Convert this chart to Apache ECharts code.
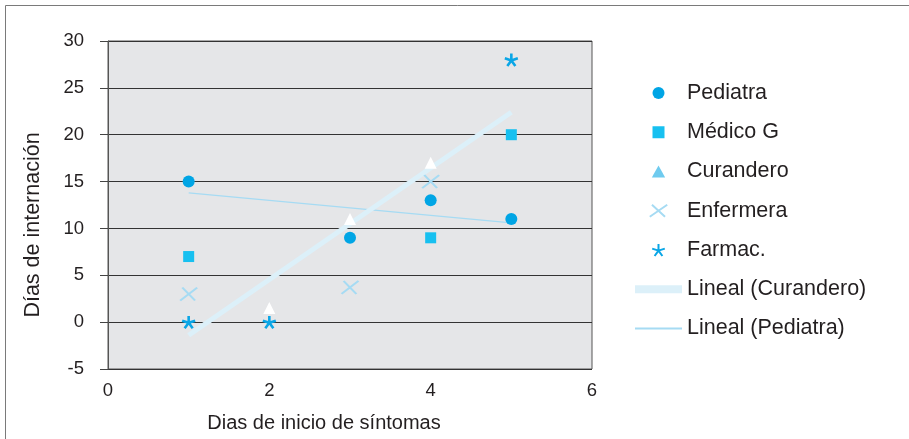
<!DOCTYPE html>
<html>
<head>
<meta charset="utf-8">
<script src="https://cdn.jsdelivr.net/npm/echarts@6/dist/echarts.min.js"></script>
<style>
  html, body { margin: 0; padding: 0; background: #ffffff; }
  #chart { width: 909px; height: 439px; }
</style>
</head>
<body>
<div id="chart"></div>
<script>
// Días de inicio de síntomas (x) vs. días de internación (y), por tipo de consulta
const seriesNames = ['Pediatra', 'Médico G', 'Curandero', 'Enfermera', 'Farmac.'];
const pediatra  = [[1, 15], [3, 9], [4, 13], [5, 11]];
const medicoG   = [[1, 7], [4, 9], [5, 20]];
const curandero = [[2, 1.5], [3, 11], [4, 17]];
const enfermera = [[1, 3], [3, 3.7], [4, 15]];
const farmac    = [[1, 0], [2, 0], [5, 28]];

// Líneas de tendencia (extremos)
const trendCurandero = [[1, -1.4], [5, 22.4]];
const trendPediatra  = [[1, 13.8], [5, 10.6]];

const yTicks = [-5, 0, 5, 10, 15, 20, 25, 30];
const xTicks = [0, 2, 4, 6];

const FONT = "'Liberation Sans', Arial, sans-serif";
const TEXT = '#231f20';

const crossPath    = 'path://M0,11L16,0M2,0L14,11';
const starPath     = 'path://M6,6L6,0M6,6L11.7,4.15M6,6L0.3,4.15M6,6L9.53,10.85M6,6L2.47,10.85';
const squareIcon   = 'path://M0,0L10,0L10,10L0,10Z';
const triangleIcon = 'path://M5,0L10,9L0,9Z';
const noMarker     = { color: 'rgba(0,0,0,0)', borderWidth: 0 };

const chart = echarts.init(document.getElementById('chart'), null, { renderer: 'canvas' });

chart.setOption({
  animation: false,
  backgroundColor: '#ffffff',
  textStyle: { fontFamily: FONT },
  graphic: [{
    type: 'rect',
    shape: { x: 5.5, y: 5.5, width: 1000, height: 1000 },
    style: { fill: 'none', stroke: '#7a7a7a', lineWidth: 1 },
    silent: true
  }],
  grid: {
    left: 108, top: 41, right: 317, bottom: 70,
    show: true,
    backgroundColor: '#e5e6e8',
    borderColor: '#555555',
    borderWidth: 1
  },
  xAxis: {
    type: 'value',
    min: xTicks[0], max: xTicks[xTicks.length - 1], interval: 2,
    name: 'Dias de inicio de síntomas',
    nameLocation: 'middle',
    nameGap: 44,
    nameTextStyle: { fontSize: 20, color: TEXT, fontFamily: FONT, padding: [0, 52, 0, 0] },
    axisLine: { show: false },
    axisTick: { show: false },
    splitLine: { show: false },
    axisLabel: { fontSize: 18.5, color: TEXT, margin: 12, fontFamily: FONT }
  },
  yAxis: {
    type: 'value',
    min: yTicks[0], max: yTicks[yTicks.length - 1], interval: 5,
    name: 'Días de internación',
    nameLocation: 'middle',
    nameGap: 64,
    nameTextStyle: { fontSize: 21.5, color: TEXT, fontFamily: FONT, padding: [0, 40, 0, 0] },
    axisLine: { show: true, lineStyle: { color: '#555555', width: 1 } },
    axisTick: { show: true, inside: false, length: 8, lineStyle: { color: '#444444' } },
    splitLine: { show: true, lineStyle: { color: '#333333', width: 1 } },
    axisLabel: { fontSize: 18.5, color: TEXT, margin: 24, fontFamily: FONT }
  },
  legend: {
    orient: 'vertical',
    left: 631,
    top: 82,
    padding: 0,
    itemWidth: 47,
    itemHeight: 12,
    itemGap: 17.25,
    textStyle: { fontSize: 21.5, color: TEXT, fontFamily: FONT, padding: [0, 0, 0, 0] },
    data: [
      { name: 'Pediatra' },
      { name: 'Médico G', icon: squareIcon },
      { name: 'Curandero', icon: triangleIcon, itemStyle: { color: '#6fcbef' } },
      { name: 'Enfermera' },
      { name: 'Farmac.' },
      { name: 'Lineal (Curandero)', lineStyle: { width: 8 }, itemStyle: noMarker },
      { name: 'Lineal (Pediatra)', itemStyle: noMarker }
    ]
  },
  series: [
    {
      name: 'Lineal (Curandero)', type: 'line', data: trendCurandero,
      symbol: 'none', z: 2,
      lineStyle: { color: '#dcf0f9', width: 5 },
      itemStyle: { color: '#dcf0f9' }
    },
    {
      name: 'Lineal (Pediatra)', type: 'line', data: trendPediatra,
      symbol: 'none', z: 1,
      lineStyle: { color: '#a6dbf3', width: 1.2 },
      itemStyle: { color: '#a6dbf3' }
    },
    {
      name: seriesNames[0], type: 'scatter', data: pediatra, z: 5,
      symbol: 'circle', symbolSize: 12,
      itemStyle: { color: '#00a5e5', opacity: 1 }
    },
    {
      name: seriesNames[1], type: 'scatter', data: medicoG, z: 5,
      symbol: 'rect', symbolSize: 11,
      itemStyle: { color: '#17c0f0', opacity: 1 }
    },
    {
      name: seriesNames[2], type: 'scatter', data: curandero, z: 5,
      symbol: 'triangle', symbolSize: 12,
      itemStyle: { color: '#ffffff', opacity: 1 }
    },
    {
      name: seriesNames[3], type: 'scatter', data: enfermera, z: 5,
      symbol: crossPath, symbolSize: [17, 13], symbolKeepAspect: false,
      itemStyle: { color: 'rgba(0,0,0,0)', borderColor: '#a6dbf3', borderWidth: 2, opacity: 1 }
    },
    {
      name: seriesNames[4], type: 'scatter', data: farmac, z: 6,
      symbol: starPath, symbolSize: [13, 13], symbolKeepAspect: true,
      itemStyle: { color: 'rgba(0,0,0,0)', borderColor: '#0aa6e6', borderWidth: 2.6, opacity: 1 }
    }
  ]
});
</script>
</body>
</html>
